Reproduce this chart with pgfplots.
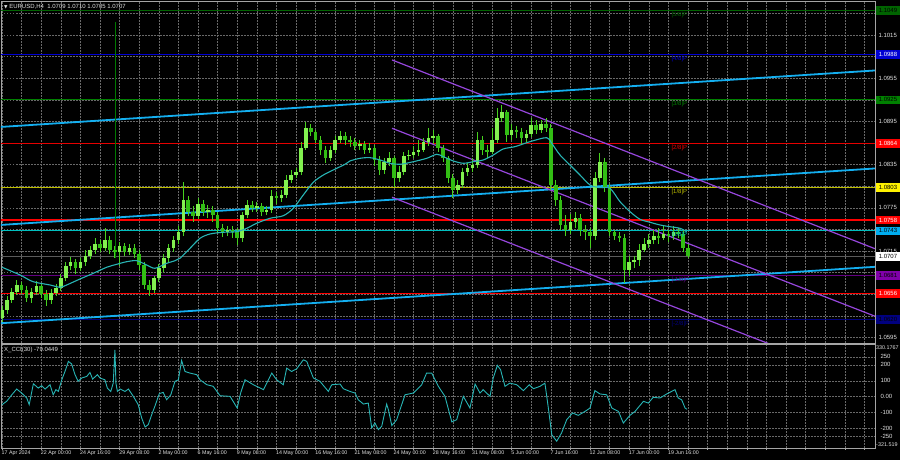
\documentclass[border=0pt]{standalone}
\usepackage{pgfplots}
\pgfplotsset{compat=1.18}
\usepackage{pgfplotstable}
\usepackage{fontspec}
\setmainfont{Liberation Sans}
\newfontfamily\symfont{DejaVu Sans}

\definecolor{framec}{RGB}{165,165,165}
\definecolor{gridc}{RGB}{105,105,105}
\definecolor{txt}{RGB}{225,225,225}
\definecolor{wickc}{RGB}{70,210,30}
\definecolor{upc}{RGB}{130,240,80}
\definecolor{dnc}{RGB}{50,190,20}
\definecolor{spikec}{RGB}{0,120,0}
\definecolor{reg}{RGB}{20,175,240}
\definecolor{chan}{RGB}{150,70,220}
\definecolor{mac}{RGB}{40,180,180}
\definecolor{mgreen}{RGB}{0,100,0}
\definecolor{mblue}{RGB}{0,0,210}
\definecolor{mgreen2}{RGB}{0,128,0}
\definecolor{mred}{RGB}{230,0,0}
\definecolor{myellow}{RGB}{190,190,0}
\definecolor{mcyan}{RGB}{0,190,190}
\definecolor{mgray}{RGB}{90,90,90}
\definecolor{mpurple}{RGB}{100,0,130}
\definecolor{mnavy}{RGB}{0,0,128}
\definecolor{sred}{RGB}{255,0,0}

\newcommand{\tk}{\fontsize{6}{7}\selectfont}
\newcommand{\dt}{\fontsize{5.3}{6}\selectfont}

% H4 candles, two bars per row: bar index, open, high, low, close
\pgfplotstableread{
x o h l c
0 1.06219 1.06386 1.06164 1.06330
2 1.06330 1.06525 1.06275 1.06469
4 1.06469 1.06636 1.06428 1.06580
6 1.06580 1.06747 1.06539 1.06678
8 1.06678 1.06719 1.06553 1.06608
10 1.06608 1.06664 1.06442 1.06497
12 1.06497 1.06636 1.06428 1.06580
14 1.06580 1.06733 1.06539 1.06664
16 1.06664 1.06705 1.06497 1.06553
18 1.06553 1.06608 1.06386 1.06469
20 1.06469 1.06622 1.06414 1.06567
22 1.06567 1.06692 1.06525 1.06636
24 1.06636 1.06830 1.06594 1.06775
26 1.06775 1.06997 1.06733 1.06942
28 1.06942 1.07067 1.06886 1.06997
30 1.06997 1.07039 1.06830 1.06914
32 1.06914 1.07053 1.06872 1.06997
34 1.06997 1.07164 1.06942 1.07080
36 1.07080 1.07219 1.07039 1.07164
38 1.07164 1.07330 1.07108 1.07247
40 1.07247 1.07303 1.07136 1.07192
42 1.07192 1.07469 1.07150 1.07303
44 1.07303 1.07358 1.07108 1.07164
46 1.07164 1.07219 1.07053 1.07136
48 1.07136 1.07275 1.06942 1.07219
50 1.07219 1.07261 1.07080 1.07136
52 1.07136 1.07247 1.07094 1.07192
54 1.07192 1.07247 1.07053 1.07108
56 1.07108 1.07164 1.06886 1.06955
58 1.06955 1.06997 1.06622 1.06678
60 1.06678 1.06747 1.06525 1.06608
62 1.06608 1.06803 1.06567 1.06775
64 1.06775 1.06969 1.06719 1.06914
66 1.06914 1.07108 1.06858 1.07053
68 1.07053 1.07247 1.06997 1.07192
70 1.07192 1.07358 1.07136 1.07303
72 1.07303 1.07497 1.07247 1.07414
74 1.07414 1.08108 1.07358 1.07858
76 1.07858 1.07914 1.07636 1.07692
78 1.07692 1.07775 1.07553 1.07636
80 1.07636 1.07886 1.07594 1.07803
82 1.07803 1.07858 1.07636 1.07692
84 1.07692 1.07789 1.07608 1.07719
86 1.07719 1.07775 1.07553 1.07650
88 1.07650 1.07692 1.07400 1.07469
90 1.07469 1.07525 1.07344 1.07414
92 1.07414 1.07497 1.07358 1.07442
94 1.07442 1.07497 1.07330 1.07414
96 1.07414 1.07469 1.07233 1.07330
98 1.07330 1.07692 1.07275 1.07650
100 1.07650 1.07858 1.07608 1.07789
102 1.07789 1.07844 1.07692 1.07747
104 1.07747 1.07830 1.07692 1.07775
106 1.07775 1.07817 1.07636 1.07692
108 1.07692 1.07775 1.07650 1.07719
110 1.07719 1.07997 1.07678 1.07914
112 1.07914 1.07969 1.07803 1.07886
114 1.07886 1.07997 1.07830 1.07928
116 1.07928 1.08205 1.07886 1.08136
118 1.08136 1.08275 1.08094 1.08205
120 1.08205 1.08303 1.08164 1.08247
122 1.08247 1.08664 1.08205 1.08580
124 1.08580 1.08942 1.08553 1.08858
126 1.08858 1.08914 1.08747 1.08803
128 1.08803 1.08830 1.08650 1.08692
130 1.08692 1.08747 1.08483 1.08553
132 1.08553 1.08608 1.08372 1.08442
134 1.08442 1.08608 1.08400 1.08553
136 1.08553 1.08747 1.08511 1.08692
138 1.08692 1.08817 1.08650 1.08747
140 1.08747 1.08803 1.08622 1.08692
142 1.08692 1.08747 1.08594 1.08664
144 1.08664 1.08719 1.08553 1.08608
146 1.08608 1.08692 1.08553 1.08636
148 1.08636 1.08678 1.08497 1.08553
150 1.08553 1.08650 1.08511 1.08580
152 1.08580 1.08622 1.08330 1.08414
154 1.08414 1.08469 1.08205 1.08275
156 1.08275 1.08442 1.08219 1.08386
158 1.08386 1.08525 1.08330 1.08442
160 1.08442 1.08469 1.08039 1.08164
162 1.08164 1.08330 1.08108 1.08247
164 1.08247 1.08525 1.08205 1.08469
166 1.08469 1.08553 1.08414 1.08483
168 1.08483 1.08608 1.08442 1.08525
170 1.08525 1.08692 1.08469 1.08553
172 1.08553 1.08719 1.08525 1.08664
174 1.08664 1.08858 1.08608 1.08719
176 1.08719 1.08830 1.08636 1.08747
178 1.08747 1.08775 1.08525 1.08580
180 1.08580 1.08622 1.08386 1.08442
182 1.08442 1.08469 1.08094 1.08164
184 1.08164 1.08219 1.07886 1.07997
186 1.07997 1.08136 1.07942 1.08067
188 1.08067 1.08303 1.08025 1.08247
190 1.08247 1.08372 1.08192 1.08303
192 1.08303 1.08442 1.08247 1.08344
194 1.08344 1.08803 1.08303 1.08692
196 1.08692 1.08747 1.08483 1.08553
198 1.08553 1.08622 1.08442 1.08525
200 1.08525 1.08858 1.08497 1.08692
202 1.08692 1.09136 1.08650 1.08997
204 1.08997 1.09178 1.08942 1.09080
206 1.09080 1.09108 1.08664 1.08761
208 1.08761 1.08914 1.08692 1.08830
210 1.08830 1.08886 1.08719 1.08803
212 1.08803 1.08858 1.08622 1.08719
214 1.08719 1.08830 1.08664 1.08775
216 1.08775 1.08997 1.08733 1.08900
218 1.08900 1.08969 1.08775 1.08830
220 1.08830 1.08969 1.08789 1.08914
222 1.08914 1.08997 1.08803 1.08858
224 1.08858 1.08914 1.07997 1.08067
226 1.08067 1.08136 1.07775 1.07858
228 1.07858 1.07914 1.07442 1.07511
230 1.07511 1.07650 1.07358 1.07442
232 1.07442 1.07664 1.07386 1.07553
234 1.07553 1.07692 1.07469 1.07608
236 1.07608 1.07664 1.07358 1.07442
238 1.07442 1.07511 1.07303 1.07414
240 1.07414 1.07469 1.07192 1.07358
242 1.07358 1.08247 1.07303 1.08164
244 1.08164 1.08511 1.08108 1.08386
246 1.08386 1.08442 1.07969 1.08025
248 1.08025 1.08080 1.07358 1.07414
250 1.07414 1.07442 1.07303 1.07358
252 1.07358 1.07414 1.07275 1.07330
254 1.07330 1.07386 1.06705 1.06886
256 1.06886 1.07080 1.06803 1.06997
258 1.06997 1.07080 1.06914 1.07025
260 1.07025 1.07247 1.06942 1.07164
262 1.07164 1.07330 1.07136 1.07247
264 1.07247 1.07386 1.07192 1.07303
266 1.07303 1.07442 1.07247 1.07358
268 1.07358 1.07469 1.07247 1.07330
270 1.07330 1.07497 1.07303 1.07386
272 1.07386 1.07442 1.07275 1.07358
274 1.07358 1.07497 1.07303 1.07414
276 1.07414 1.07469 1.07330 1.07386
278 1.07386 1.07442 1.07136 1.07192
280 1.07192 1.07247 1.07053 1.07080
}\candles

% moving average
\pgfplotstableread{
x ma
0 1.06924
7.35 1.06817
12.65 1.06724
19.59 1.06678
23.67 1.06646
26.41 1.06678
31.84 1.06761
37.27 1.06840
42.73 1.06924
46.82 1.06965
50.9 1.07001
54.98 1.07015
59.06 1.06955
62.45 1.06910
67.22 1.06979
70.61 1.07015
72.65 1.07049
76.73 1.07187
80.82 1.07326
84.9 1.07386
90.33 1.07410
95.8 1.07418
99.88 1.07465
103.96 1.07535
109.39 1.07604
114.82 1.07640
118.9 1.07743
122.98 1.07928
127.06 1.08104
131.14 1.08205
135.22 1.08275
140 1.08354
142.04 1.08400
146.12 1.08437
150.2 1.08446
154.29 1.08414
158.37 1.08368
162.45 1.08354
167.88 1.08390
173.35 1.08437
177.43 1.08493
180.12 1.08460
184.2 1.08400
188.29 1.08368
192.37 1.08390
196.45 1.08414
200.53 1.08483
204.61 1.08567
209.39 1.08599
215.51 1.08668
222.33 1.08724
224.37 1.08646
227.76 1.08483
231.84 1.08344
235.92 1.08205
240 1.08067
244.08 1.08029
248.16 1.08021
252.24 1.07835
256.33 1.07696
260.41 1.07590
264.49 1.07549
268.57 1.07511
272.65 1.07487
276.73 1.07465
279.47 1.07418
}\matable

% CCI(30)
\pgfplotstableread{
x v
0 -50
1.9 -29
4.0 12
6.0 48
8.0 23
10.1 -8
11.1 -50
12.8 81
14.8 54
16.2 69
17.6 48
19.6 75
20.9 12
22.0 44
23.0 33
24.4 106
25.7 158
27.1 221
28.4 206
29.8 138
31.1 96
32.5 117
34.6 127
35.9 152
37.0 110
38.9 138
40.0 117
42.0 106
43.0 54
44.4 33
45.4 85
46.1 294
46.5 85
47.1 33
48.2 48
50.2 33
51.6 48
53.6 2
55.6 -50
57.0 -133
58.4 -190
59.7 -175
61.1 -113
62.4 -60
64.2 19
65.8 27
67.2 -19
68.9 12
70.6 96
72.0 106
73.3 227
74.7 158
76.7 148
79.5 138
80.8 106
83.6 75
86.2 65
89.0 6
93.1 2
96.0 -71
97.4 23
99.2 106
102.6 75
106.7 44
110.1 148
112.1 106
114.8 75
116.2 179
118.2 158
120.3 175
123.0 231
124.4 221
127.1 117
129.8 96
133.2 33
134.6 75
138.0 79
139.3 50
142.0 33
144.1 23
145.4 -19
147.5 -46
149.5 -40
150.9 -196
152.2 -165
153.6 -206
155.0 -185
157.0 -46
157.7 -81
159.1 -181
161.1 -144
164.5 12
167.9 23
171.3 75
173.3 148
175.4 148
178.1 65
180.8 2
183.6 -158
185.6 -144
188.3 2
191.0 -71
193.1 79
195.1 23
196.4 44
199.2 2
200.5 117
202.2 196
203.5 169
205.3 65
207.3 85
210.1 75
212.8 38
215.2 75
216.9 50
219.6 65
221.6 85
223.0 -71
224.4 -238
226.4 -279
228.4 -227
230.5 -144
232.9 -102
235.2 -117
238.0 -92
240.0 -71
242.0 38
244.1 17
246.8 12
248.9 -71
251.6 -92
253.6 -165
256.3 -117
258.4 -92
261.8 -29
263.8 -40
265.8 -4
268.6 -8
271.3 17
274.7 44
276.0 -8
277.4 -19
278.8 -71
279.6 -79
}\ccitable

\tikzset{pbox/.style={anchor=west, font=\tk, inner xsep=1.2pt, inner ysep=0.8pt,
  minimum width=23.5pt, minimum height=8.5pt, xshift=1pt},
  mlab/.style={anchor=north west, font=\tk, inner sep=0.5pt, yshift=-1pt}}

\begin{document}
\begin{tikzpicture}[x=1pt,y=1pt]
\useasboundingbox (0,0) rectangle (900,460);
\fill[black] (0,0) rectangle (900,460);

\begin{axis}[at={(1pt,117pt)}, anchor=south west, scale only axis,
  width=874pt, height=342pt,
  xmin=-0.41, xmax=356.33, ymin=1.05872, ymax=1.10622,
  clip mode=individual,
  axis line style={framec, line width=0.6pt},
  xtick={0,8,...,352}, xticklabels={},
  ytick={1.0595,1.0625,1.0655,1.0685,1.0715,1.0745,1.0775,1.0805,1.0835,1.0865,1.0895,1.0925,1.0955,1.0985,1.1015,1.1045},
  yticklabels={1.0595,{},{},{},1.0715,{},1.0775,{},1.0835,{},1.0895,{},1.0955,{},1.1015,{}},
  yticklabel pos=right,
  yticklabel style={font=\tk, text=txt},
  tick style={draw=none}, major tick length=0pt,
  grid=major, grid style={gridc, line width=0.4pt, dash pattern=on 1.5pt off 1.5pt},
]
% horizontal levels
\addplot[mgreen, line width=0.8pt] coordinates {(-1,1.1049) (360,1.1049)};
\addplot[mblue, line width=0.8pt] coordinates {(-1,1.0988) (360,1.0988)};
\addplot[mgreen2, line width=0.8pt] coordinates {(-1,1.0925) (360,1.0925)};
\addplot[mred, line width=0.8pt] coordinates {(-1,1.0864) (360,1.0864)};
\addplot[myellow, line width=0.8pt] coordinates {(-1,1.0803) (360,1.0803)};
\addplot[sred, line width=1.8pt] coordinates {(-1,1.0758) (360,1.0758)};
\addplot[mcyan, line width=0.8pt] coordinates {(-1,1.0743) (360,1.0743)};
\addplot[mgray, line width=0.8pt] coordinates {(-1,1.0707) (360,1.0707)};
\addplot[mpurple, line width=0.8pt] coordinates {(-1,1.0681) (360,1.0681)};
\addplot[sred, line width=1.8pt] coordinates {(-1,1.0656) (360,1.0656)};
\addplot[mnavy, line width=0.8pt] coordinates {(-1,1.0620) (360,1.0620)};
% rising regression channel
\addplot[reg, line width=1.8pt] coordinates {(-0.8,1.08872) (356.3,1.09657)};
\addplot[reg, line width=1.8pt] coordinates {(-0.8,1.07511) (356.3,1.08296)};
\addplot[reg, line width=1.8pt] coordinates {(-0.8,1.06146) (356.3,1.06930)};
% falling channel
\addplot[chan, line width=1.2pt] coordinates {(159.2,1.09803) (356.3,1.07182)};
\addplot[chan, line width=1.2pt] coordinates {(159.2,1.08854) (356.3,1.06244)};
\addplot[chan, line width=1.2pt] coordinates {(159.2,1.07896) (356.3,1.05289)};
% candles
\addplot[spikec, line width=0.8pt] coordinates {(46.1,1.10330) (46.1,1.07050)};
\addplot[wickc, line width=0.8pt, -, quiver={u=0, v=\thisrow{h}-\thisrow{l}}]
  table[x=x, y=l] {\candles};
\addplot[upc, line width=3.6pt, -, quiver={u=0, v=\thisrow{c}-\thisrow{o}},
  restrict expr to domain={\thisrow{c}-\thisrow{o}}{0:1}]
  table[x=x, y=o] {\candles};
\addplot[dnc, line width=3.6pt, -, quiver={u=0, v=\thisrow{c}-\thisrow{o}},
  restrict expr to domain={\thisrow{c}-\thisrow{o}}{-1:0}]
  table[x=x, y=o] {\candles};
\addplot[mac, line width=1.1pt, smooth] table[x=x, y=ma] {\matable};
% Murrey labels
\node[mlab, text=mgreen] at (axis cs:273,1.1049) {[5/8]P};
\node[mlab, text=mblue] at (axis cs:273,1.0988) {[4/8]P};
\node[mlab, text=mgreen2] at (axis cs:273,1.0925) {[3/8]P};
\node[mlab, text=mred] at (axis cs:273,1.0864) {[2/8]P};
\node[mlab, text=myellow] at (axis cs:273,1.0803) {[1/8]P};
\node[mlab, text=mcyan] at (axis cs:273,1.0743) {[0/8]P};
\node[mlab, text=mpurple] at (axis cs:273,1.0681) {[-1/8]P};
\node[mlab, text=mnavy] at (axis cs:273,1.0620) {[-2/8]P};
% price boxes
\node[pbox, fill=mgreen, text=black] at (axis cs:356.33,1.1049) {1.1049};
\node[pbox, fill=mblue, text=white] at (axis cs:356.33,1.0988) {1.0988};
\node[pbox, fill=mgreen2, text=black] at (axis cs:356.33,1.0925) {1.0925};
\node[pbox, fill=sred, text=white] at (axis cs:356.33,1.0864) {1.0864};
\node[pbox, fill=yellow, text=black] at (axis cs:356.33,1.0803) {1.0803};
\node[pbox, fill=sred, text=white] at (axis cs:356.33,1.0758) {1.0758};
\node[pbox, fill=cyan, text=black] at (axis cs:356.33,1.0743) {1.0743};
\node[pbox, fill=white, text=black] at (axis cs:356.33,1.0707) {1.0707};
\node[pbox, fill={rgb,255:red,128;green,0;blue,170}, text=black] at (axis cs:356.33,1.0681) {1.0681};
\node[pbox, fill=sred, text=white] at (axis cs:356.33,1.0656) {1.0656};
\node[pbox, fill=mnavy, text=black] at (axis cs:356.33,1.0620) {1.0620};
\node[anchor=north west, inner sep=0pt, font=\tk, text=txt, xshift=3pt, yshift=-3pt]
  at (rel axis cs:0,1) {{\symfont\fontsize{4.5}{5}\selectfont ▼}\ EURUSD,H4\ \ 1.0709 1.0710 1.0705 1.0707};
\end{axis}

\begin{axis}[at={(1pt,12pt)}, anchor=south west, scale only axis,
  width=874pt, height=104pt,
  xmin=-0.41, xmax=356.33, ymin=-321.519, ymax=330.1767,
  clip mode=individual,
  axis line style={framec, line width=0.6pt},
  ytick={-250,-200,-100,0,100,200,250},
  yticklabels={-250,-200,-100,0.00,100,200,250},
  yticklabel pos=right,
  yticklabel style={font=\tk, text=txt},
  ytick style={draw=none},
  xtick={0,8,...,352},
  xticklabels={17 Apr 2024,{},22 Apr 00:00,{},24 Apr 16:00,{},29 Apr 08:00,{},2 May 00:00,{},6 May 16:00,{},9 May 08:00,{},14 May 00:00,{},16 May 16:00,{},21 May 08:00,{},24 May 00:00,{},28 May 16:00,{},31 May 08:00,{},5 Jun 00:00,{},7 Jun 16:00,{},12 Jun 08:00,{},17 Jun 00:00,{},19 Jun 16:00,{},{},{},{},{},{},{},{},{},{},{}},
  xtick pos=left, tick align=outside, major tick length=2pt,
  xtick style={framec, line width=0.5pt},
  xticklabel style={font=\dt, text=txt, anchor=north west, xshift=-1.5pt, inner sep=1pt},
  grid=major, grid style={gridc, line width=0.4pt, dash pattern=on 1.5pt off 1.5pt},
]
\addplot[mac, line width=0.9pt] table[x=x, y=v] {\ccitable};
\node[anchor=north west, inner sep=0pt, font=\tk, text=txt, xshift=3pt, yshift=-3pt]
  at (rel axis cs:0,1) {X\_CCI(30) -79.0449};
\node[anchor=north west, inner sep=0.5pt, font=\fontsize{5.4}{6}\selectfont, text=txt, xshift=0.5pt, yshift=-1pt]
  at (rel axis cs:1,1) {330.1767};
\node[anchor=south west, inner sep=0.5pt, font=\fontsize{5.4}{6}\selectfont, text=txt, xshift=0.5pt, yshift=1pt]
  at (rel axis cs:1,0) {-321.519};
\end{axis}
\end{tikzpicture}
\end{document}
